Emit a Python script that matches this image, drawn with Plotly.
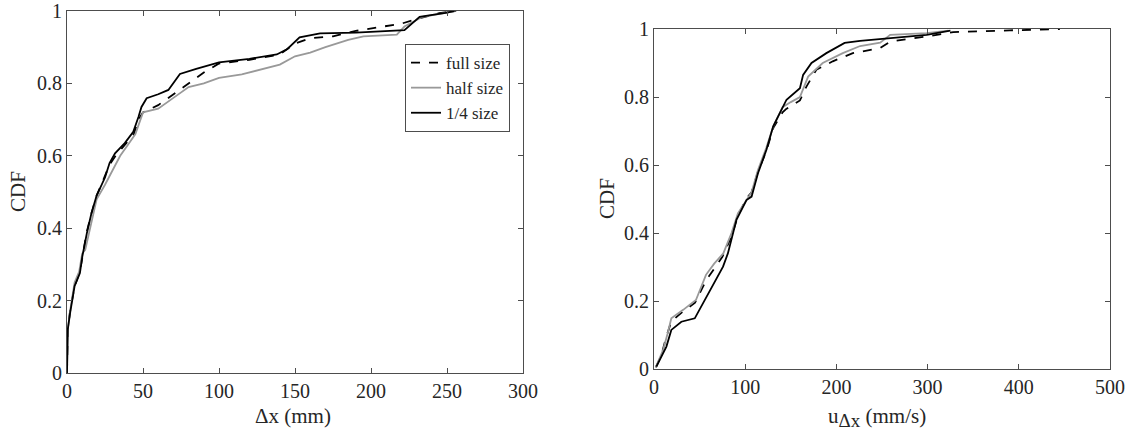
import plotly.graph_objects as go

# ---------------- data ----------------
# Left panel: CDF of Δx (mm)
dx_full_x = [0, 0.5, 2, 5, 8.5, 10, 13, 16, 19.5, 28, 32, 38, 44, 47, 50, 60, 70, 80, 90, 100, 120, 140, 150, 160, 175, 190, 205, 220, 232, 245, 256]
dx_full_y = [0, 0.12, 0.17, 0.24, 0.28, 0.32, 0.39, 0.44, 0.49, 0.575, 0.60, 0.63, 0.66, 0.70, 0.72, 0.74, 0.77, 0.80, 0.83, 0.855, 0.865, 0.88, 0.91, 0.925, 0.93, 0.945, 0.955, 0.965, 0.98, 0.994, 1.0]

dx_half_x = [0, 0.5, 2, 5, 8, 10, 12, 15, 19.5, 25, 30, 35, 40, 45, 50, 60, 70, 80, 90, 100, 115, 130, 140, 150, 160, 170, 185, 195, 217, 222, 234, 249, 255]
dx_half_y = [0, 0.12, 0.17, 0.25, 0.28, 0.33, 0.34, 0.40, 0.48, 0.52, 0.56, 0.60, 0.63, 0.66, 0.72, 0.73, 0.76, 0.79, 0.80, 0.815, 0.825, 0.84, 0.852, 0.875, 0.885, 0.90, 0.92, 0.93, 0.935, 0.957, 0.984, 0.995, 1.0]

dx_quarter_x = [0, 0.5, 2, 5, 8.5, 10, 13, 16, 19.5, 25, 28, 31.6, 38, 43.6, 47, 49, 52.4, 60, 66.7, 74.3, 85, 100, 120, 138, 145, 153, 166.5, 190, 222, 232, 249, 255]
dx_quarter_y = [0, 0.12, 0.165, 0.24, 0.276, 0.32, 0.385, 0.44, 0.49, 0.54, 0.58, 0.607, 0.635, 0.666, 0.707, 0.735, 0.759, 0.77, 0.782, 0.826, 0.84, 0.858, 0.868, 0.88, 0.895, 0.927, 0.938, 0.94, 0.947, 0.984, 0.995, 1.0]

# Right panel: CDF of u_Δx (mm/s)
u_full_x = [2, 8, 13, 19, 30, 45, 57, 65, 75, 85, 92, 101, 107, 114, 123, 131, 141, 145, 160, 167, 178, 196, 218, 248, 259, 299, 328, 390, 445]
u_full_y = [0.005, 0.04, 0.09, 0.14, 0.165, 0.195, 0.26, 0.29, 0.33, 0.39, 0.45, 0.5, 0.52, 0.58, 0.64, 0.71, 0.755, 0.765, 0.79, 0.83, 0.88, 0.905, 0.929, 0.944, 0.963, 0.978, 0.991, 0.996, 1.0]

u_half_x = [2, 10, 15, 19, 32, 46, 57, 66, 76, 85, 92, 101, 107, 114, 123, 131, 141, 150, 160, 169, 185, 207, 226, 248, 259, 299, 323]
u_half_y = [0.005, 0.056, 0.105, 0.149, 0.174, 0.203, 0.277, 0.31, 0.34, 0.4, 0.458, 0.497, 0.52, 0.585, 0.65, 0.715, 0.77, 0.785, 0.80, 0.86, 0.90, 0.929, 0.95, 0.96, 0.983, 0.988, 0.995]

u_quarter_x = [2.6, 8, 13.6, 19, 30, 44.7, 61, 68.4, 75.7, 81, 90.4, 101.4, 107, 114, 123.3, 130.6, 141.5, 145.3, 160, 163.5, 172.7, 189, 209, 226, 299, 325]
u_quarter_y = [0.007, 0.036, 0.066, 0.115, 0.139, 0.149, 0.228, 0.267, 0.301, 0.34, 0.439, 0.497, 0.507, 0.576, 0.645, 0.713, 0.772, 0.792, 0.826, 0.865, 0.9, 0.929, 0.959, 0.965, 0.983, 0.995]

series_names = ["full size", "half size", "1/4 size"]
y_ticks = [0, 0.2, 0.4, 0.6, 0.8, 1]
y_tick_text = ["0", "0.2", "0.4", "0.6", "0.8", "1"]
dx_ticks = [0, 50, 100, 150, 200, 250, 300]
u_ticks = [0, 100, 200, 300, 400, 500]

# ---------------- styling ----------------
W, H = 1131, 436


def px(v):
    return v / W


def py(v):
    return 1 - v / H


FONT = "Liberation Serif"
TXT = "#262626"
AX = "#4d4d4d"
styles = [
    dict(color="black", width=1.8, dash="dash"),
    dict(color="#999999", width=1.8, dash="solid"),
    dict(color="black", width=1.8, dash="solid"),
]

fig = go.Figure()
left = [(dx_full_x, dx_full_y), (dx_half_x, dx_half_y), (dx_quarter_x, dx_quarter_y)]
right = [(u_full_x, u_full_y), (u_half_x, u_half_y), (u_quarter_x, u_quarter_y)]
for i, (xs, ys) in enumerate(left):
    fig.add_trace(go.Scatter(x=xs, y=ys, mode="lines", name=series_names[i],
                             line=styles[i], xaxis="x", yaxis="y", showlegend=True))
for i, (xs, ys) in enumerate(right):
    fig.add_trace(go.Scatter(x=xs, y=ys, mode="lines", name=series_names[i],
                             line=styles[i], xaxis="x2", yaxis="y2", showlegend=False))

common = dict(showgrid=False, zeroline=False, showline=True, linecolor=AX, linewidth=1,
              mirror="ticks", ticks="inside", ticklen=5, tickcolor=AX, tickwidth=1,
              automargin=False, ticklabeloverflow="allow",
              tickfont=dict(family=FONT, size=20, color=TXT))

ann_font = dict(family=FONT, size=21, color=TXT)

fig.update_layout(
    width=W, height=H,
    margin=dict(l=0, r=0, t=0, b=0),
    paper_bgcolor="white", plot_bgcolor="white",
    font=dict(family=FONT, size=20, color=TXT),
    xaxis=dict(domain=[px(67), px(523)], range=[0, 300], tickvals=dx_ticks, anchor="y", **common),
    yaxis=dict(domain=[py(373), py(11)], range=[0, 1], tickvals=y_ticks, ticktext=y_tick_text,
               anchor="x", **common),
    xaxis2=dict(domain=[px(654), px(1110)], range=[0, 500], tickvals=u_ticks, anchor="y2", **common),
    yaxis2=dict(domain=[py(369), py(29)], range=[0, 1], tickvals=y_ticks, ticktext=y_tick_text,
                anchor="x2", **common),
    legend=dict(x=px(510), y=py(44), xanchor="right", yanchor="top",
                bgcolor="white", bordercolor=AX, borderwidth=1,
                font=dict(family=FONT, size=17, color=TXT), tracegroupgap=0,
                itemwidth=30),
    annotations=[
        dict(text="Δx (mm)", x=px(293), y=py(416), xref="paper", yref="paper",
             xanchor="center", yanchor="middle", showarrow=False, font=ann_font),
        dict(text="CDF", x=px(18), y=py(192), xref="paper", yref="paper", textangle=-90,
             xanchor="center", yanchor="middle", showarrow=False, font=ann_font),
        dict(text="u<sub><span style='font-size:19px'>Δx</span></sub> (mm/s)", x=px(877), y=py(417),
             xref="paper", yref="paper",
             xanchor="center", yanchor="middle", showarrow=False, font=ann_font),
        dict(text="CDF", x=px(607), y=py(199), xref="paper", yref="paper", textangle=-90,
             xanchor="center", yanchor="middle", showarrow=False, font=ann_font),
    ],
)

# remove the default page margin so the figure fills the window exactly
fig.write_html("out.html", config={"displayModeBar": False, "staticPlot": True},
               post_script="document.body.style.margin='0';")
